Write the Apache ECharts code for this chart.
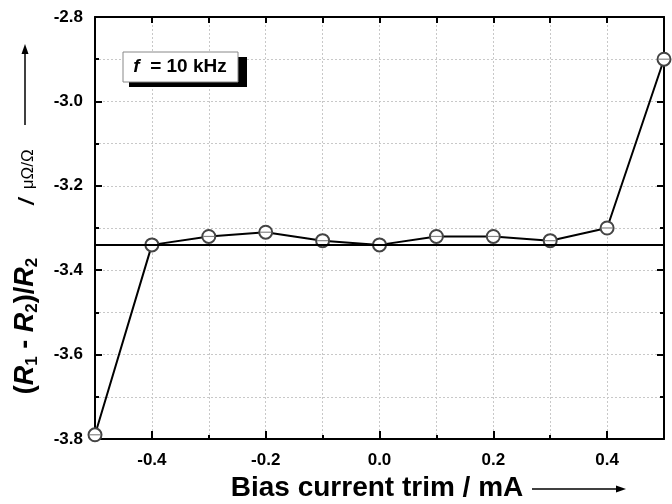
<!DOCTYPE html>
<html>
<head>
<meta charset="utf-8">
<script src="https://cdn.jsdelivr.net/npm/echarts@6/dist/echarts.min.js"></script>
<style>html,body{margin:0;padding:0;background:#fff}#c{width:672px;height:504px}</style>
</head>
<body>
<div id="c"></div>
<script>
// Data
const xValues = [-0.5, -0.4, -0.3, -0.2, -0.1, 0.0, 0.1, 0.2, 0.3, 0.4, 0.5];
const yValues = [-3.79, -3.34, -3.32, -3.31, -3.33, -3.34, -3.32, -3.32, -3.33, -3.30, -2.90];
const referenceLevel = -3.34;
const xTickLabels = [-0.4, -0.2, 0.0, 0.2, 0.4];
const yTickLabels = [-3.8, -3.6, -3.4, -3.2, -3.0, -2.8];

const F = '"Liberation Sans", Arial, sans-serif';
const chart = echarts.init(document.getElementById('c'));
const pts = xValues.map((x, i) => [x, yValues[i]]);
const grid = {left: 95, right: 8, top: 17, bottom: 65};
const dotted = {show: true, lineStyle: {color: '#c8c8c8', type: [2, 2], width: 1}};

const option = {
  animation: false,
  backgroundColor: '#fff',
  grid: grid,
  xAxis: [
    {type: 'value', position: 'bottom', min: -0.5, max: 0.5, interval: 0.1,
     axisLine: {lineStyle: {color: '#000', width: 2}, onZero: false},
     axisTick: {inside: true, length: 4, lineStyle: {color: '#000', width: 2}},
     splitLine: dotted,
     axisLabel: {customValues: xTickLabels, formatter: v => v.toFixed(1), color: '#000', fontFamily: F, fontWeight: 'bold', fontSize: 17, margin: 13}
    },
    {type: 'value', position: 'bottom', min: -0.5, max: 0.5,
     axisLine: {show: false},
     axisTick: {inside: true, length: 8, customValues: xTickLabels, lineStyle: {color: '#000', width: 2}},
     splitLine: {show: false}, axisLabel: {show: false}
    },
    {type: 'value', position: 'top', min: -0.5, max: 0.5, interval: 0.1,
     axisLine: {lineStyle: {color: '#000', width: 2}, onZero: false},
     axisTick: {inside: true, length: 6, lineStyle: {color: '#000', width: 2}},
     splitLine: {show: false}, axisLabel: {show: false}
    }
  ],
  yAxis: [
    {type: 'value', position: 'left', min: -3.8, max: -2.8, interval: 0.2,
     axisLine: {show: true, lineStyle: {color: '#000', width: 2}, onZero: false},
     axisTick: {inside: true, length: 7, lineStyle: {color: '#000', width: 2}},
     minorTick: {show: true, splitNumber: 2, length: 4, lineStyle: {color: '#000', width: 2}},
     splitLine: dotted, minorSplitLine: dotted,
     axisLabel: {customValues: yTickLabels, formatter: v => v.toFixed(1), color: '#000', fontFamily: F, fontWeight: 'bold', fontSize: 17, margin: 12}
    },
    {type: 'value', position: 'right', min: -3.8, max: -2.8, interval: 0.2,
     axisLine: {show: true, lineStyle: {color: '#000', width: 2}, onZero: false},
     axisTick: {inside: true, length: 7, lineStyle: {color: '#000', width: 2}},
     minorTick: {show: true, splitNumber: 2, length: 4, lineStyle: {color: '#000', width: 2}},
     splitLine: {show: false}, axisLabel: {show: false}
    }
  ],
  series: [
    {type: 'line', data: pts, xAxisIndex: 0, yAxisIndex: 0,
     lineStyle: {color: '#000', width: 2},
     symbol: 'emptyCircle', symbolSize: 13,
     itemStyle: {color: '#444', borderWidth: 1.3},
     z: 3,
     markLine: {silent: true, symbol: ['none', 'none'], label: {show: false},
       lineStyle: {color: '#000', width: 2, type: 'solid'},
       data: [{yAxis: referenceLevel}]}
    },
    {type: 'scatter', data: pts, xAxisIndex: 0, yAxisIndex: 0,
     symbol: 'rect', symbolSize: [11, 1.2], itemStyle: {color: '#666'}, z: 4, silent: true}
  ],
  graphic: [
    // legend box
    {type: 'rect', shape: {x: 129, y: 57, width: 118, height: 30}, style: {fill: '#000'}, z: 10},
    {type: 'rect', shape: {x: 123, y: 52, width: 115, height: 30}, style: {fill: '#fff', stroke: '#888', lineWidth: 1}, z: 11},
    {type: 'text', x: 180, y: 67, z: 12,
     style: {text: '{i|f}{b|  = 10 kHz}', align: 'center', verticalAlign: 'middle',
       rich: {i: {fontFamily: F, fontWeight: 'bold', fontStyle: 'italic', fontSize: 19, fill: '#000'},
              b: {fontFamily: F, fontWeight: 'bold', fontSize: 19, fill: '#000'}}}},
    // y title main part
    {type: 'text', x: 26, y: 326, rotation: Math.PI / 2, z: 12,
     style: {text: '{p|(}{i|R}{s|1}{p| - }{i|R}{s|2}{p|)/}{i|R}{s|2}',
       align: 'center', verticalAlign: 'middle',
       rich: {
         p: {fontFamily: F, fontWeight: 'bold', fontSize: 27, fill: '#000'},
         i: {fontFamily: F, fontWeight: 'bold', fontStyle: 'italic', fontSize: 27, fill: '#000'},
         s: {fontFamily: F, fontWeight: 'bold', fontSize: 17, fill: '#000', padding: [12, 0, 0, 0]}
       }}},
    // y title unit part
    {type: 'text', x: 28, y: 177, rotation: Math.PI / 2, z: 12,
     style: {text: '{i|/}{u|  μΩ/Ω}',
       align: 'center', verticalAlign: 'middle',
       rich: {
         i: {fontFamily: F, fontWeight: 'bold', fontStyle: 'italic', fontSize: 22, fill: '#000'},
         u: {fontFamily: F, fontSize: 17, fill: '#000'}
       }}},
    // y arrow
    {type: 'line', shape: {x1: 25, y1: 125, x2: 25, y2: 52}, style: {stroke: '#000', lineWidth: 1.5}, z: 12},
    {type: 'polygon', shape: {points: [[25, 44], [21.5, 54], [28.5, 54]]}, style: {fill: '#000'}, z: 12},
    // x title
    {type: 'text', x: 377, y: 488, z: 12,
     style: {text: 'Bias current trim / mA', align: 'center', verticalAlign: 'middle',
       fontFamily: F, fontWeight: 'bold', fontSize: 28, fill: '#000'}},
    // x arrow
    {type: 'line', shape: {x1: 532, y1: 489, x2: 617, y2: 489}, style: {stroke: '#000', lineWidth: 1.5}, z: 12},
    {type: 'polygon', shape: {points: [[626, 489], [616, 485.5], [616, 492.5]]}, style: {fill: '#000'}, z: 12}
  ]
};
chart.setOption(option);
</script>
</body>
</html>
